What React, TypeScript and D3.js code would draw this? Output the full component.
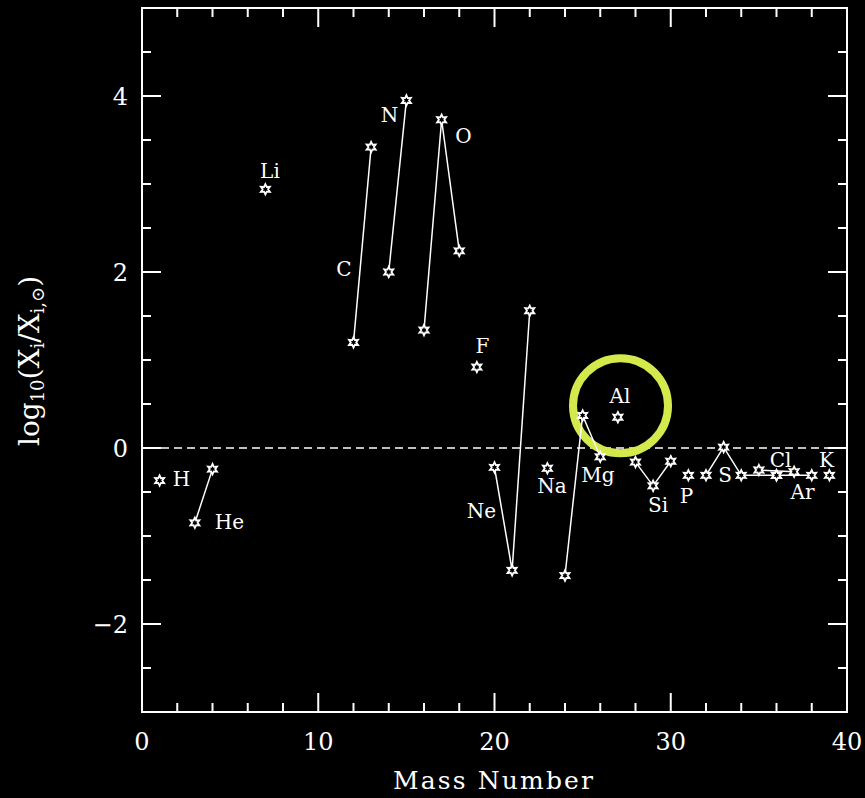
import React from "react";
import * as d3 from "d3";

// ---- data ----
const isotopeElement = ["H","He","He","Li","C","C","N","N","O","O","O","F","Ne","Ne","Ne","Na","Mg","Mg","Mg","Al","Si","Si","Si","P","S","S","S","S","Cl","Cl","Ar","Ar","K"];
const isotopeMass = [1,3,4,7,12,13,14,15,16,17,18,19,20,21,22,23,24,25,26,27,28,29,30,31,32,33,34,36,35,37,36,38,39];
const isotopeLogRatio = [-0.37,-0.85,-0.24,2.94,1.20,3.42,2.00,3.95,1.34,3.73,2.24,0.92,-0.22,-1.39,1.56,-0.23,-1.45,0.37,-0.10,0.35,-0.16,-0.43,-0.15,-0.31,-0.31,0.01,-0.31,-0.31,-0.25,-0.27,-0.31,-0.31,-0.31];

const labelNames = ["H","He","Li","C","N","O","F","Ne","Na","Mg","Al","Si","P","S","Cl","Ar","K"];
const labelX = [2.24,4.96,7.26,11.46,14.04,18.24,19.32,19.26,23.26,25.87,27.12,29.28,30.89,33.08,36.23,37.48,38.84];
const labelY = [-0.43,-0.92,3.07,1.95,3.70,3.47,1.08,-0.80,-0.51,-0.39,0.51,-0.73,-0.62,-0.39,-0.22,-0.58,-0.22];

const xMajorTicks = [0,10,20,30,40];
const yMajorTicks = [-2,0,2,4];
const highlightMass = 27.15;  // circle centre (data units)
const highlightValue = 0.48;

const W = 865, H = 798;
const left = 142, right = 847, top = 8, bottom = 712;
const FONT = "'DejaVu Serif', 'Liberation Serif', serif";

function starPath(r1: number, r2: number) {
  const pts: [number, number][] = [];
  for (let i = 0; i < 12; i++) {
    const a = (Math.PI / 6) * i - Math.PI / 2;
    const r = i % 2 === 0 ? r1 : r2;
    pts.push([Math.cos(a) * r, Math.sin(a) * r]);
  }
  return d3.line()(pts) + "Z";
}

export default function App() {
  const x = d3.scaleLinear().domain([0, 40]).range([left, right]);
  const y = d3.scaleLinear().domain([-3, 5]).range([bottom, top]);

  const xMinor = d3.range(0, 41, 2).filter((v) => !xMajorTicks.includes(v));
  const yMinor = d3.range(-3, 5.01, 0.5).filter((v) => !yMajorTicks.includes(v) && v > -3 && v < 5);

  const groups = d3.groups(
    isotopeMass.map((m, i) => ({ m, v: isotopeLogRatio[i], el: isotopeElement[i] })),
    (d) => d.el
  );
  const line = d3.line<{ m: number; v: number }>().x((d) => x(d.m)).y((d) => y(d.v));
  const star = starPath(5.2, 2.7);

  return (
    <svg width={W} height={H} style={{ position: "absolute", left: 0, top: 0, background: "#000" }}>
      <rect x={0} y={0} width={W} height={H} fill="#000" />
      {/* zero line */}
      <line x1={x(0) + 19} x2={right} y1={y(0)} y2={y(0)} stroke="#fff" strokeWidth={1.6} strokeDasharray="8 5" />
      {/* highlight circle */}
      <circle cx={x(highlightMass)} cy={y(highlightValue)} r={47.5} fill="none" stroke="#d4e94c" strokeWidth={8} />
      {/* isotope lines */}
      {groups.map(([el, pts]) =>
        pts.length > 1 ? (
          <path key={el} d={line(pts) || ""} fill="none" stroke="#fff" strokeWidth={1.5} />
        ) : null
      )}
      {/* points */}
      {isotopeMass.map((m, i) => (
        <path key={i} d={star} transform={`translate(${x(m)},${y(isotopeLogRatio[i])})`} fill="#000" stroke="#fff" strokeWidth={1.8} />
      ))}
      {/* element labels */}
      {labelNames.map((n, i) => (
        <text key={n} x={x(labelX[i])} y={y(labelY[i])} fill="#fff" fontFamily={FONT} fontSize={20} textAnchor="middle">
          {n}
        </text>
      ))}
      {/* frame */}
      <rect x={left} y={top} width={right - left} height={bottom - top} fill="none" stroke="#fff" strokeWidth={2} />
      {/* x ticks */}
      {xMajorTicks.map((v) => (
        <g key={"xm" + v}>
          <line x1={x(v)} x2={x(v)} y1={bottom} y2={bottom - 19} stroke="#fff" strokeWidth={2} />
          <line x1={x(v)} x2={x(v)} y1={top} y2={top + 19} stroke="#fff" strokeWidth={2} />
          <text x={x(v)} y={750} fill="#fff" fontFamily={FONT} fontSize={24} textAnchor="middle">{v}</text>
        </g>
      ))}
      {xMinor.map((v) => (
        <g key={"xn" + v}>
          <line x1={x(v)} x2={x(v)} y1={bottom} y2={bottom - 9} stroke="#fff" strokeWidth={2} />
          <line x1={x(v)} x2={x(v)} y1={top} y2={top + 9} stroke="#fff" strokeWidth={2} />
        </g>
      ))}
      {/* y ticks */}
      {yMajorTicks.map((v) => (
        <g key={"ym" + v}>
          <line x1={left} x2={left + 19} y1={y(v)} y2={y(v)} stroke="#fff" strokeWidth={2} />
          <line x1={right} x2={right - 19} y1={y(v)} y2={y(v)} stroke="#fff" strokeWidth={2} />
          <text x={128} y={y(v) + 9} fill="#fff" fontFamily={FONT} fontSize={24} textAnchor="end">{v < 0 ? "\u2212" + Math.abs(v) : v}</text>
        </g>
      ))}
      {yMinor.map((v) => (
        <g key={"yn" + v}>
          <line x1={left} x2={left + 9} y1={y(v)} y2={y(v)} stroke="#fff" strokeWidth={2} />
          <line x1={right} x2={right - 9} y1={y(v)} y2={y(v)} stroke="#fff" strokeWidth={2} />
        </g>
      ))}
      {/* axis titles */}
      <text x={493} y={789} fill="#fff" fontFamily={FONT} fontSize={25} textAnchor="middle" textLength={200} lengthAdjust="spacing">
        Mass Number
      </text>
      <text transform="translate(39,361) rotate(-90)" fill="#fff" fontFamily={FONT} fontSize={28} textAnchor="middle">
        log<tspan fontSize={18} dy={5}>10</tspan>
        <tspan dy={-5}>(X</tspan>
        <tspan fontSize={18} dy={5}>i</tspan>
        <tspan dy={-5}>/X</tspan>
        <tspan fontSize={18} dy={5}>i,⊙</tspan>
        <tspan dy={-5}>)</tspan>
      </text>
    </svg>
  );
}
